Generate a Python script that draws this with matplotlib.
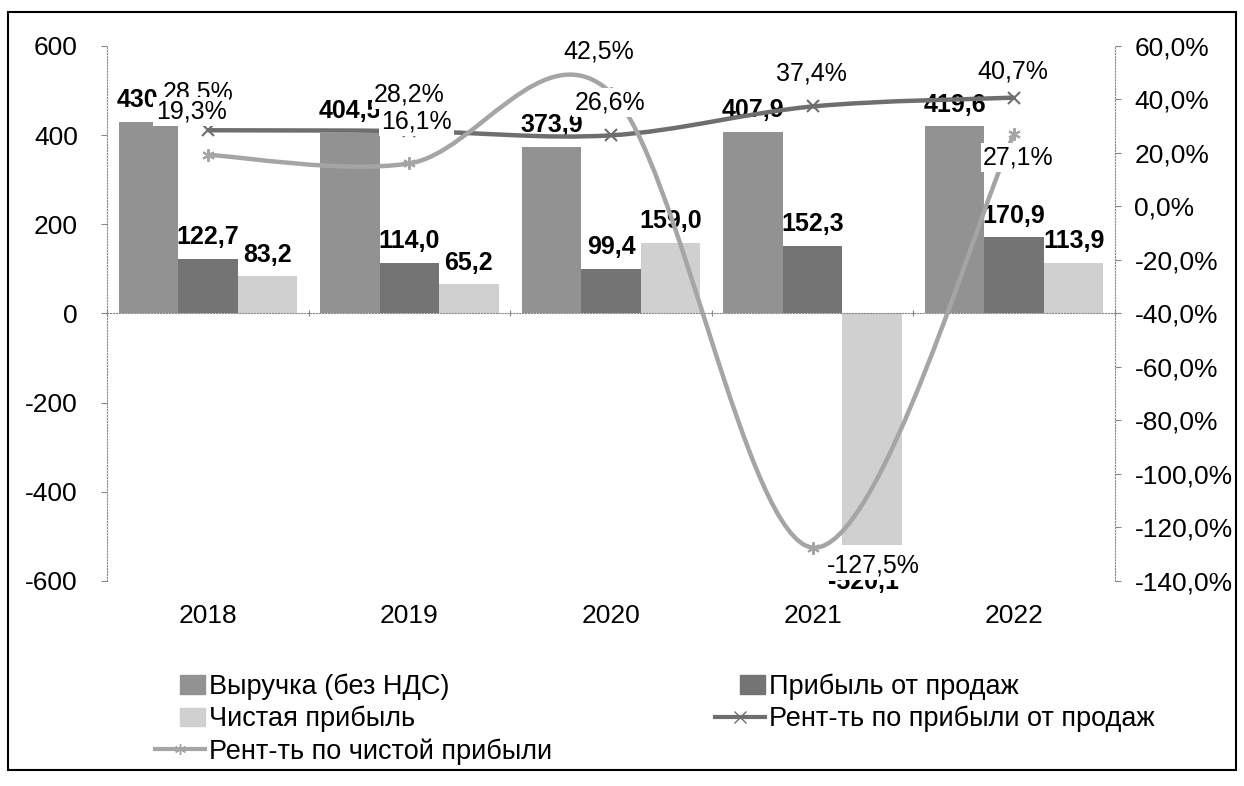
import numpy as np
import matplotlib.pyplot as plt
import matplotlib.patches as mpatches
from matplotlib.path import Path
from matplotlib.lines import Line2D
from matplotlib.legend_handler import HandlerPatch

plt.rcParams['font.family'] = ['Liberation Sans', 'DejaVu Sans']
plt.rcParams['font.size'] = 18

# данные
years = ['2018', '2019', '2020', '2021', '2022']
revenue = [430.4, 404.5, 373.9, 407.9, 419.6]
sales_profit = [122.7, 114.0, 99.4, 152.3, 170.9]
net_profit = [83.2, 65.2, 159.0, -520.1, 113.9]
rent_sales = [28.5, 28.2, 26.6, 37.4, 40.7]
rent_net = [19.3, 16.1, 42.5, -127.5, 27.1]

# смещения подписей процентов (в пунктах)
off_sales = [(-7, 27), (0, 26), (-1, 24), (-1, 24), (-1, 19)]
off_net = [(-12, 31), (5, 30), (-9, 30), (44, -13), (3, -17)]

c_rev = '#929292'
c_sp = '#747474'
c_np = '#d0d0d0'
c_lsales = '#6e6e6e'
c_lnet = '#a5a5a5'


def fmt(v):
    return f'{v:.1f}'.replace('.', ',')


def smooth_path(xs, ys):
    # кривая Безье как сглаженная линия в Excel
    pts = np.column_stack([xs, ys]).astype(float)
    n = len(pts)
    verts = [pts[0]]
    codes = [Path.MOVETO]
    for i in range(n - 1):
        p0 = pts[i - 1] if i > 0 else pts[i]
        p1 = pts[i]
        p2 = pts[i + 1]
        p3 = pts[i + 2] if i + 2 < n else pts[i + 1]
        verts += [p1 + (p2 - p0) / 6, p2 - (p3 - p1) / 6, p2]
        codes += [Path.CURVE4] * 3
    return Path(verts, codes)


fig = plt.figure(figsize=(12.44, 7.86), dpi=100)
ax = fig.add_axes([107 / 1244, 205 / 786, 1008 / 1244, 535 / 786])
x = np.arange(len(years))
w = 0.295

b1 = ax.bar(x - w, revenue, w, color=c_rev, zorder=2)
b2 = ax.bar(x, sales_profit, w, color=c_sp, zorder=2)
b3 = ax.bar(x + w, net_profit, w, color=c_np, zorder=2)

for bars, vals in [(b1, revenue), (b2, sales_profit), (b3, net_profit)]:
    for r, v in zip(bars, vals):
        cx = r.get_x() + r.get_width() / 2
        if v >= 0:
            ax.annotate(fmt(v), (cx, v), xytext=(0, 7), textcoords='offset points',
                        ha='center', va='bottom', fontweight='bold', zorder=5)
        else:
            ax.annotate(fmt(v), (cx, v), xytext=(-6, -18), textcoords='offset points',
                        ha='center', va='top', fontweight='bold', zorder=5)

ax.set_xlim(-0.5, len(years) - 0.5)
ax.set_ylim(-600, 600)
ax.set_yticks(np.arange(-600, 601, 200))
ax.set_yticklabels([str(v) for v in range(-600, 601, 200)], fontsize=19)
for s in ['top', 'right']:
    ax.spines[s].set_visible(False)
ax.spines['left'].set_linestyle(':')
ax.spines['left'].set_color('#888888')
ax.spines['bottom'].set_position(('data', 0))
ax.spines['bottom'].set_linestyle(':')
ax.spines['bottom'].set_color('#888888')
ax.set_xticks(np.arange(len(years) + 1) - 0.5)
ax.set_xticklabels([])
ax.tick_params(axis='x', length=5, direction='inout', color='#888888')
ax.tick_params(axis='y', length=4, color='#888888', pad=17)
for i, yr in enumerate(years):
    ax.text(i, -0.066, yr, transform=ax.get_xaxis_transform(), ha='center', va='center',
            fontsize=19)

ax2 = ax.twinx()
ax2.set_ylim(-140, 60)
ax2.set_yticks(np.arange(-140, 61, 20))
ax2.set_yticklabels([fmt(v) + '%' for v in range(-140, 61, 20)], fontsize=19)
for lab in ax2.get_yticklabels():
    lab.set_horizontalalignment('left')
for s in ['top', 'left', 'bottom']:
    ax2.spines[s].set_visible(False)
ax2.spines['right'].set_linestyle(':')
ax2.spines['right'].set_color('#888888')
ax2.tick_params(axis='y', length=4, color='#888888', pad=10)

ax2.add_patch(mpatches.PathPatch(smooth_path(x, rent_sales), fill=False,
                                 edgecolor=c_lsales, lw=3.2, zorder=3))
ax2.plot(x, rent_sales, ls='none', marker='x', ms=9, mew=1.5, color=c_lsales, zorder=3)
ax2.add_patch(mpatches.PathPatch(smooth_path(x, rent_net), fill=False,
                                 edgecolor=c_lnet, lw=3.2, zorder=3))
ax2.plot(x, rent_net, ls='none', marker=(6, 2, 0), ms=9, mew=1.5, color=c_lnet, zorder=3)

box = dict(boxstyle='square,pad=0.1', fc='white', ec='none')
for i, v in enumerate(rent_sales):
    ax2.annotate(fmt(v) + '%', (x[i], v), xytext=off_sales[i], textcoords='offset points',
                 ha='center', va='center', bbox=box, zorder=6)
for i, v in enumerate(rent_net):
    ax2.annotate(fmt(v) + '%', (x[i], v), xytext=off_net[i], textcoords='offset points',
                 ha='center', va='center', bbox=box, zorder=7)


def half_patch(legend, orig_handle, xdescent, ydescent, width, height, fontsize):
    return mpatches.Rectangle((-xdescent + width * 0.5, -ydescent), width * 0.5, height)


handles = [
    mpatches.Patch(color=c_rev),
    mpatches.Patch(color=c_np),
    Line2D([], [], color=c_lnet, lw=3, marker=(6, 2, 0), ms=8),
    mpatches.Patch(color=c_sp),
    Line2D([], [], color=c_lsales, lw=3, marker='x', ms=8),
]
labels = ['Выручка (без НДС)', 'Чистая прибыль', 'Рент-ть по чистой прибыли',
          'Прибыль от продаж', 'Рент-ть по прибыли от продаж']
fig.legend(handles, labels, ncol=2, loc='upper left', bbox_to_anchor=(155 / 1244, 0.143),
           frameon=False, fontsize=19.5, handlelength=1.85, handletextpad=0.15,
           columnspacing=6.0, labelspacing=0.22, borderpad=0, borderaxespad=0,
           handler_map={mpatches.Patch: HandlerPatch(patch_func=half_patch)})

fig.patches.append(mpatches.Rectangle((8 / 1244, 16 / 786), 1228 / 1244, 758 / 786,
                                      transform=fig.transFigure, fill=False,
                                      ec='black', lw=1.5))

fig.savefig('out.png', dpi=100)
